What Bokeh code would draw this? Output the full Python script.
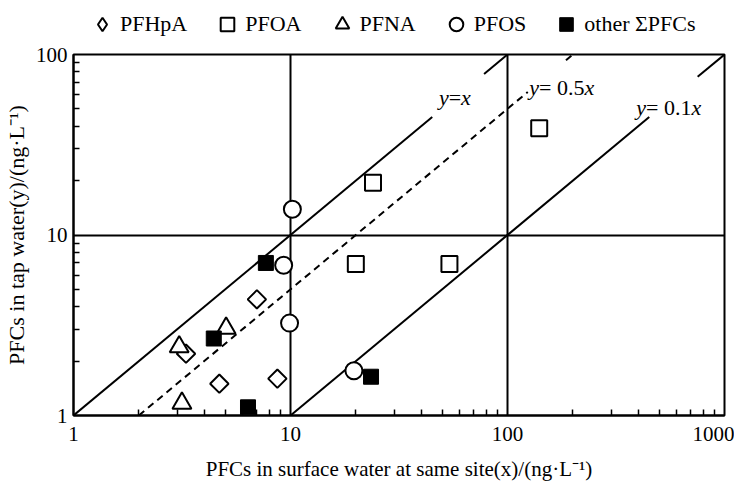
import math
from bokeh.plotting import figure
from bokeh.layouts import column
from bokeh.models import FixedTicker, Legend, LegendItem, Range1d, NumeralTickFormatter
from bokeh.core.properties import value
from bokeh.embed import file_html
from bokeh.resources import INLINE

# ---- data ----
x_ticks = [1, 10, 100, 1000]
x_tick_labels = ["1", "10", "100", "1000"]
y_ticks = [1, 10, 100]
y_tick_labels = ["1", "10", "100"]

pfhpa_x = [7.0, 3.3, 4.7, 8.7]
pfhpa_y = [4.4, 2.2, 1.5, 1.6]

pfoa_x = [24, 140, 20, 54]
pfoa_y = [19.5, 39, 6.9, 6.9]

pfna_x = [5.05, 3.07, 3.16]
pfna_y = [3.04, 2.40, 1.17]

pfos_x = [10.2, 9.3, 9.9, 19.6]
pfos_y = [13.9, 6.8, 3.25, 1.77]

other_x = [7.7, 4.43, 6.37, 23.5]
other_y = [7.0, 2.67, 1.11, 1.64]

series_names = ["PFHpA", "PFOA", "PFNA", "PFOS", "other \u03a3PFCs"]

# reference lines y = k*x, drawn in pieces (gaps leave room for the labels)
line_k = [1.0, 0.5, 0.1]
line_pieces = [[(1, 45), (78, 100)],
               [(2, 124), (186, 200)],
               [(10, 450), (752, 1000)]]
line_dash = ["solid", "7 5", "solid"]
line_coeff_text = ["", " 0.5", " 0.1"]

SERIF = "Liberation Serif"
W = 734

# marker styles (plot)
styles = [
    dict(marker="square", angle=math.pi / 4, size=13, fill_color="white",
         line_color="black", line_width=2),
    dict(marker="square", size=16, fill_color="white", line_color="black", line_width=2),
    dict(marker="triangle", size=19, fill_color="white", line_color="black", line_width=2),
    dict(marker="circle", size=17, fill_color="white", line_color="black", line_width=2),
    dict(marker="square", size=15, fill_color="black", line_color="black", line_width=1),
]
# legend glyphs (legend ignores marker angle, so use a diamond there)
legend_styles = [dict(styles[0], marker="diamond", angle=0)] + styles[1:]

# ---------------- main plot ----------------
p = figure(width=W, height=13 + 361 + 69, x_axis_type="log", y_axis_type="log",
           x_range=Range1d(1, 1000), y_range=Range1d(1, 100),
           output_backend="svg", toolbar_location=None,
           min_border_left=67, min_border_right=10,
           min_border_top=13, min_border_bottom=69)
p.background_fill_color = "white"
p.border_fill_color = "white"
p.outline_line_color = "black"
p.outline_line_width = 2

minor_x = [m * d for d in [1, 10, 100] for m in range(2, 10)]
minor_y = [m * d for d in [1, 10] for m in range(2, 10)]
p.xaxis.ticker = FixedTicker(ticks=x_ticks, minor_ticks=minor_x)
p.yaxis.ticker = FixedTicker(ticks=y_ticks, minor_ticks=minor_y)
p.xaxis.formatter = NumeralTickFormatter(format="0")
p.yaxis.formatter = NumeralTickFormatter(format="0")
p.xaxis.major_label_overrides = {t: s for t, s in zip(x_ticks, x_tick_labels)}
p.yaxis.major_label_overrides = {t: s for t, s in zip(y_ticks, y_tick_labels)}

for ax in (p.xaxis, p.yaxis):
    ax.major_tick_in = 0
    ax.major_tick_out = 0
    ax.minor_tick_in = 6
    ax.minor_tick_out = 0
    ax.minor_tick_line_width = 1.5
    ax.minor_tick_line_color = "black"
    ax.axis_line_width = 2
    ax.axis_line_color = "black"
    ax.major_label_text_font = SERIF
    ax.major_label_text_font_size = "21px"
    ax.major_label_text_color = "black"
    ax.axis_label_text_font = SERIF
    ax.axis_label_text_font_style = "normal"
    ax.axis_label_text_color = "black"

p.xaxis.axis_label_text_font_size = "21px"
p.yaxis.axis_label_text_font_size = "22px"
p.xaxis.axis_label = "PFCs in surface water at same site(x)/(ng\u00b7L\u207b\u00b9)"
p.yaxis.axis_label = "PFCs in tap water(y)/(ng\u00b7L\u207b\u00b9)"
p.xaxis.major_label_standoff = 11
p.xaxis.axis_label_standoff = 13
p.yaxis.major_label_standoff = 6
p.yaxis.axis_label_standoff = 4

p.grid.grid_line_color = "black"
p.grid.grid_line_width = 2
p.grid.grid_line_alpha = 1.0

for k, pieces, dash in zip(line_k, line_pieces, line_dash):
    for (x0, x1) in pieces:
        p.line([x0, x1], [k * x0, k * x1], line_color="black", line_width=2,
               line_dash=dash)

lab_x = [48.3, 126, 392]
lab_y = [57.8, 65.7, 50.9]
fs = 22
for lx, ly, coeff in zip(lab_x, lab_y, line_coeff_text):
    mid = "=" + coeff
    w_y = 0.444 * fs
    w_mid = sum({"=": 0.564, " ": 0.25, "0": 0.5, ".": 0.25, "5": 0.5, "1": 0.5}[c]
                for c in mid) * fs
    common = dict(text_font=value(SERIF), text_font_size=f"{fs}px",
                  text_baseline="middle", text_align="left", text_color="black")
    p.text(x=[lx], y=[ly], text=["y"], text_font_style="italic", **common)
    p.text(x=[lx], y=[ly], text=[mid], x_offset=w_y, **common)
    p.text(x=[lx], y=[ly], text=["x"], text_font_style="italic",
           x_offset=w_y + w_mid, **common)

all_x = [pfhpa_x, pfoa_x, pfna_x, pfos_x, other_x]
all_y = [pfhpa_y, pfoa_y, pfna_y, pfos_y, other_y]
for xs, ys, st in zip(all_x, all_y, styles):
    p.scatter(xs, ys, **st)

# ---------------- legend strip above the plot ----------------
lg = figure(width=W, height=41, x_range=Range1d(0, 1), y_range=Range1d(0, 1),
            x_axis_location=None, y_axis_location=None,
            output_backend="svg", toolbar_location=None, min_border=0)
lg.grid.visible = False
lg.outline_line_color = None
lg.background_fill_color = "white"
lg.border_fill_color = "white"
items = []
for name, st in zip(series_names, legend_styles):
    # placeholder renderer (NaN point, never visible) that only carries the legend glyph
    r = lg.scatter([float("nan")], [float("nan")], **st)
    items.append(LegendItem(label=name, renderers=[r]))
legend = Legend(items=items, orientation="horizontal", location=(11, 0),
                glyph_width=36, glyph_height=34, label_standoff=0, spacing=22,
                padding=0, margin=0, border_line_color=None,
                background_fill_alpha=0,
                label_text_font=SERIF, label_text_font_size="22px",
                label_text_color="black")
lg.add_layout(legend)

layout = column(lg, p, spacing=0)
open("out.html", "w").write(file_html(layout, INLINE))
